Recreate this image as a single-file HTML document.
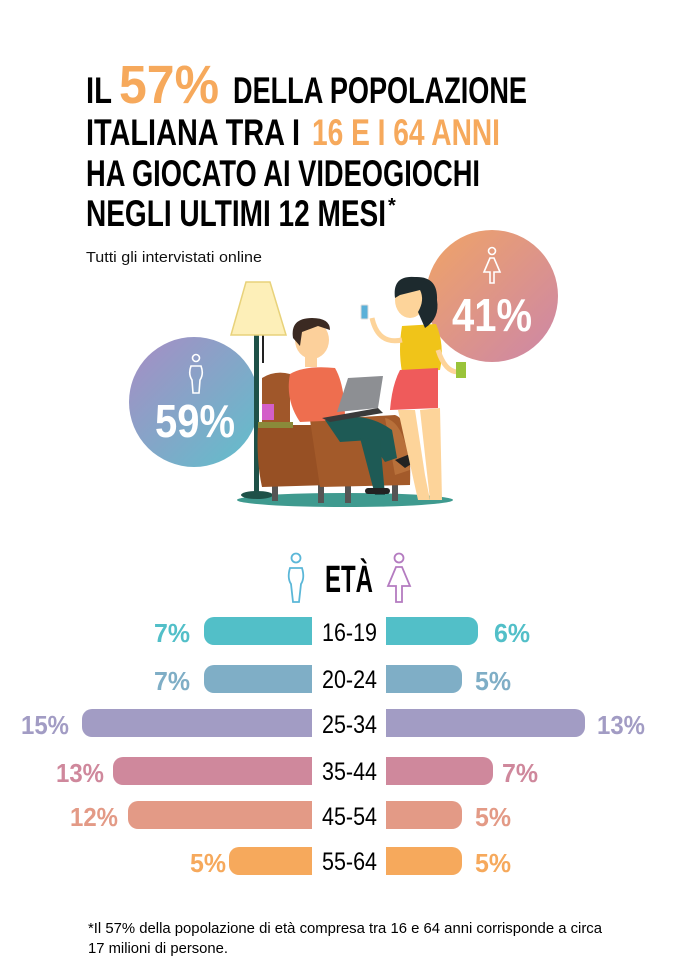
<!DOCTYPE html>
<html><head><meta charset="utf-8"><style>
html,body{margin:0;padding:0;background:#fff;}
svg{display:block;}
text{font-family:"Liberation Sans Narrow","Liberation Sans",sans-serif;}
</style></head><body>
<svg width="677" height="963" viewBox="0 0 677 963" xmlns="http://www.w3.org/2000/svg">
<defs>
<linearGradient id="gl" x1="0" y1="0" x2="1" y2="1"><stop offset="0" stop-color="#a88cc4"/><stop offset="1" stop-color="#5fc0cc"/></linearGradient>
<linearGradient id="gr" x1="0" y1="0" x2="1" y2="1"><stop offset="0" stop-color="#f0a466"/><stop offset="1" stop-color="#cc86a8"/></linearGradient>
</defs>
<!-- Title -->
<g font-weight="bold" fill="#000">
<text x="86" y="103" font-size="37" textLength="26" lengthAdjust="spacingAndGlyphs">IL</text>
<text x="119" y="103" font-size="54" fill="#f6a95c" textLength="100" lengthAdjust="spacingAndGlyphs">57%</text>
<text x="233" y="103" font-size="37" textLength="294" lengthAdjust="spacingAndGlyphs">DELLA POPOLAZIONE</text>
<text x="86" y="145" font-size="37" textLength="214" lengthAdjust="spacingAndGlyphs">ITALIANA TRA I</text>
<text x="312" y="145" font-size="37" fill="#f6a95c" textLength="188" lengthAdjust="spacingAndGlyphs">16 E I 64 ANNI</text>
<text x="86" y="186" font-size="37" textLength="394" lengthAdjust="spacingAndGlyphs">HA GIOCATO AI VIDEOGIOCHI</text>
<text x="86" y="226" font-size="37" textLength="300" lengthAdjust="spacingAndGlyphs">NEGLI ULTIMI 12 MESI</text>
<text x="388" y="212" font-size="20">*</text>
</g>
<text x="86" y="262" font-size="15" fill="#111" textLength="176" lengthAdjust="spacingAndGlyphs">Tutti gli intervistati online</text>

<!-- circles -->
<circle cx="194" cy="402" r="65" fill="url(#gl)"/>
<circle cx="492" cy="296" r="66" fill="url(#gr)"/>
<g fill="none" stroke="#fff" stroke-width="1.6">
<circle cx="196" cy="358" r="3.5"/>
<path d="M191 366 Q188 374 192 380 L193 393 L199 393 L200 380 Q204 374 201 366 Z"/>
<circle cx="492" cy="251" r="3.5"/>
<path d="M490 258 L484 272 L490 272 L490 283 L494 283 L494 272 L500 272 L494 258 Z"/>
</g>
<text x="155" y="437" font-size="46" font-weight="bold" fill="#fff" textLength="80" lengthAdjust="spacingAndGlyphs">59%</text>
<text x="452" y="331" font-size="46" font-weight="bold" fill="#fff" textLength="80" lengthAdjust="spacingAndGlyphs">41%</text>

<!-- illustration -->
<ellipse cx="345" cy="500" rx="108" ry="7" fill="#3f9a8f"/>
<ellipse cx="257" cy="495" rx="16" ry="4" fill="#1e5148"/>
<rect x="254" y="333" width="5" height="162" fill="#1e5148"/>
<rect x="262" y="333" width="2" height="30" fill="#222"/>
<polygon points="246,282 270,282 286,335 231,335" fill="#fdefb8" stroke="#e8d27a" stroke-width="1.5"/>
<rect x="272" y="483" width="6" height="18" fill="#555"/><rect x="318" y="483" width="6" height="20" fill="#555"/><rect x="345" y="483" width="6" height="20" fill="#555"/><rect x="392" y="483" width="6" height="18" fill="#555"/>
<path d="M262 378 Q275 370 290 374 L290 430 L262 430 Z" fill="#a0572a"/>
<path d="M258 425 L315 425 Q325 440 330 485 L262 487 Q256 460 258 425 Z" fill="#975024"/>
<path d="M310 420 L395 415 Q412 420 410 485 L320 487 Z" fill="#a35a2a"/>
<path d="M385 418 Q405 422 410 470 L395 475 Z" fill="#b8703a"/>
<rect x="258" y="422" width="35" height="6" fill="#8a8a3a"/>
<rect x="262" y="404" width="12" height="16" fill="#d35fc9"/>
<path d="M290 374 Q305 365 335 368 Q345 385 345 420 L300 422 Q285 400 290 374 Z" fill="#ee6e4f"/>
<path d="M325 420 Q365 410 392 430 L397 458 L385 462 L370 440 L340 442 Z" fill="#1e5a55"/>
<path d="M360 438 L380 440 L385 495 L375 495 Z" fill="#1e5a55"/>
<path d="M395 460 L420 450 Q425 456 405 468 Z" fill="#222"/>
<rect x="365" y="488" width="25" height="6" rx="3" fill="#222"/>
<rect x="305" y="352" width="12" height="15" fill="#fcd09b"/>
<ellipse cx="312" cy="340" rx="17" ry="19" fill="#fcd09b"/>
<path d="M293 338 Q290 318 312 318 Q330 318 330 330 L318 326 L302 332 L300 346 Z" fill="#3b2a22"/>
<polygon points="337,412 348,378 383,376 378,408" fill="#8d8f93"/>
<polygon points="322,418 378,408 383,413 330,422" fill="#3a3a3a"/>
<path d="M420 410 L440 408 L442 500 L430 500 Z" fill="#fdd49a"/>
<path d="M398 410 L415 410 L425 475 L430 500 L418 500 Z" fill="#fdd49a"/>
<path d="M402 326 L436 324 Q445 345 440 370 L402 372 Q398 350 402 326 Z" fill="#f0c419"/>
<path d="M400 370 L438 368 L438 408 L390 410 Q392 385 400 370 Z" fill="#ef5b5b"/>
<path d="M372 318 Q378 345 402 340" stroke="#fdd49a" stroke-width="5" fill="none"/>
<path d="M438 350 Q445 372 458 372" stroke="#fdd49a" stroke-width="5" fill="none"/>
<rect x="456" y="362" width="10" height="16" fill="#9ac43a"/>
<rect x="361" y="305" width="7" height="14" rx="1" fill="#5ab0d8" stroke="#ddd"/>
<ellipse cx="410" cy="300" rx="15" ry="18" fill="#fdd49a"/>
<path d="M395 298 Q392 275 415 277 Q438 276 437 300 Q440 318 425 328 L418 312 Q425 300 420 290 L400 295 Z" fill="#1d2a2e"/>

<!-- ETÀ -->
<g fill="none" stroke="#5bb7d8" stroke-width="1.8">
<circle cx="296" cy="558" r="4.5"/>
<path d="M290 568 Q287 578 291 584 L293 602 L299 602 L301 584 Q305 578 302 568 Z"/>
</g>
<g fill="none" stroke="#b47bc0" stroke-width="1.8">
<circle cx="399" cy="558" r="4.5"/>
<path d="M396 567 L388 586 L396 586 L396 602 L402 602 L402 586 L410 586 L402 567 Z"/>
</g>
<text x="325" y="592" font-size="38" font-weight="bold" fill="#000" textLength="48" lengthAdjust="spacingAndGlyphs">ETÀ</text>

<!-- bars -->
<g font-weight="bold" font-size="26">
<rect x="204" y="617" width="122" height="28" rx="10" fill="#52bfc8"/><rect x="372" y="617" width="106" height="28" rx="10" fill="#52bfc8"/>
<text x="154" y="642" fill="#52bfc8" textLength="36" lengthAdjust="spacingAndGlyphs">7%</text><text x="494" y="642" fill="#52bfc8" textLength="36" lengthAdjust="spacingAndGlyphs">6%</text>
<rect x="204" y="665" width="122" height="28" rx="10" fill="#7faec6"/><rect x="372" y="665" width="90" height="28" rx="10" fill="#7faec6"/>
<text x="154" y="690" fill="#7faec6" textLength="36" lengthAdjust="spacingAndGlyphs">7%</text><text x="475" y="690" fill="#7faec6" textLength="36" lengthAdjust="spacingAndGlyphs">5%</text>
<rect x="82" y="709" width="244" height="28" rx="10" fill="#a29cc4"/><rect x="372" y="709" width="213" height="28" rx="10" fill="#a29cc4"/>
<text x="21" y="734" fill="#a29cc4" textLength="48" lengthAdjust="spacingAndGlyphs">15%</text><text x="597" y="734" fill="#a29cc4" textLength="48" lengthAdjust="spacingAndGlyphs">13%</text>
<rect x="113" y="757" width="213" height="28" rx="10" fill="#cf889c"/><rect x="372" y="757" width="121" height="28" rx="10" fill="#cf889c"/>
<text x="56" y="782" fill="#cf889c" textLength="48" lengthAdjust="spacingAndGlyphs">13%</text><text x="502" y="782" fill="#cf889c" textLength="36" lengthAdjust="spacingAndGlyphs">7%</text>
<rect x="128" y="801" width="198" height="28" rx="10" fill="#e39a86"/><rect x="372" y="801" width="90" height="28" rx="10" fill="#e39a86"/>
<text x="70" y="826" fill="#e39a86" textLength="48" lengthAdjust="spacingAndGlyphs">12%</text><text x="475" y="826" fill="#e39a86" textLength="36" lengthAdjust="spacingAndGlyphs">5%</text>
<rect x="229" y="847" width="97" height="28" rx="10" fill="#f6a95c"/><rect x="372" y="847" width="90" height="28" rx="10" fill="#f6a95c"/>
<text x="190" y="872" fill="#f6a95c" textLength="36" lengthAdjust="spacingAndGlyphs">5%</text><text x="475" y="872" fill="#f6a95c" textLength="36" lengthAdjust="spacingAndGlyphs">5%</text>
</g>
<rect x="312" y="610" width="74" height="270" fill="#fff"/>
<g font-size="25" fill="#000">
<text x="322" y="641" textLength="55" lengthAdjust="spacingAndGlyphs">16-19</text>
<text x="322" y="688" textLength="55" lengthAdjust="spacingAndGlyphs">20-24</text>
<text x="322" y="733" textLength="55" lengthAdjust="spacingAndGlyphs">25-34</text>
<text x="322" y="780" textLength="55" lengthAdjust="spacingAndGlyphs">35-44</text>
<text x="322" y="825" textLength="55" lengthAdjust="spacingAndGlyphs">45-54</text>
<text x="322" y="870" textLength="55" lengthAdjust="spacingAndGlyphs">55-64</text>
</g>

<text x="88" y="933" font-size="15" fill="#000" textLength="514" lengthAdjust="spacingAndGlyphs">*Il 57% della popolazione di età compresa tra 16 e 64 anni corrisponde a circa</text>
<text x="88" y="953" font-size="15" fill="#000" textLength="140" lengthAdjust="spacingAndGlyphs">17 milioni di persone.</text>
</svg>
</body></html>
